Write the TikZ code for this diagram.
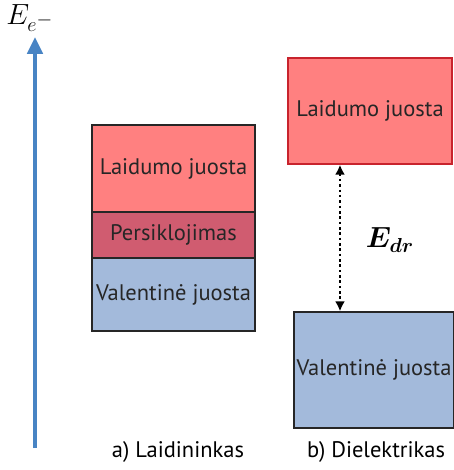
\documentclass[tikz,border=0pt]{standalone}
\usepackage{amsmath}
\usepackage{bm}
\usepackage{fontspec}
\setmainfont{PT Sans}
\usetikzlibrary{arrows.meta}
\definecolor{laidred}{RGB}{255,128,128}
\definecolor{laidedge}{RGB}{200,35,45}
\definecolor{persred}{RGB}{208,92,112}
\definecolor{valblue}{RGB}{163,186,219}
\definecolor{axisblue}{RGB}{72,132,196}
\tikzset{
    band/.style={draw=black!85, line width=1pt, inner sep=0pt, text=black!85, font=\fontsize{16}{18}\selectfont},
    caption/.style={font=\fontsize{16}{18}\selectfont}
}

\begin{document}
\begin{tikzpicture}[x=0.025cm, y=-0.025cm]
            \useasboundingbox (0,0) rectangle (454,470);

            % energy axis
            \coordinate (a0) at (35,448);
            \coordinate (a1) at (35,37);
            \draw[axisblue, line width=2.4pt, -{Triangle[length=12pt, width=11pt]}] (a0) -- (a1);
            \node (el) at (30,18) {\fontsize{20}{22}\selectfont $E_{e^{\scriptstyle -}}$};

            % a) laidininkas
            \foreach \n\y\h\c\t in {l1/168.5/2.175/laidred/Laidumo juosta,
                                    l2/235/1.15/persred/Persiklojimas,
                                    l3/294.5/1.825/valblue/Valentinė juosta} {
                \node[band, fill=\c, minimum width=4.075cm, minimum height=\h cm] (\n) at (173.5,\y) {\t};
            }
            \node[caption] (ca) at (178,452) {a) Laidininkas};

            % b) dielektrikas
            \node[band, draw=laidedge, fill=laidred, minimum width=4.1cm, minimum height=2.65cm] (d1) at (370,111) {Laidumo juosta};
            \node[band, fill=valblue, minimum width=4.0cm, minimum height=2.9cm] (d2) at (374,370) {Valentinė juosta};
            \node[caption] (cb) at (376,452) {b) Dielektrikas};

            \coordinate (g1) at ([xshift=-0.75cm]d1.south);
            \coordinate (g2) at (g1 |- d2.north);
            \draw[dotted, line width=1.8pt, {Latex[length=7pt, width=7pt]}-{Latex[length=7pt, width=7pt]}] (g1) -- (g2);
            \node (edr) at (390,240) {\fontsize{20}{22}\selectfont $\bm{E}_{\bm{dr}}$};
        \end{tikzpicture}
\end{document}
